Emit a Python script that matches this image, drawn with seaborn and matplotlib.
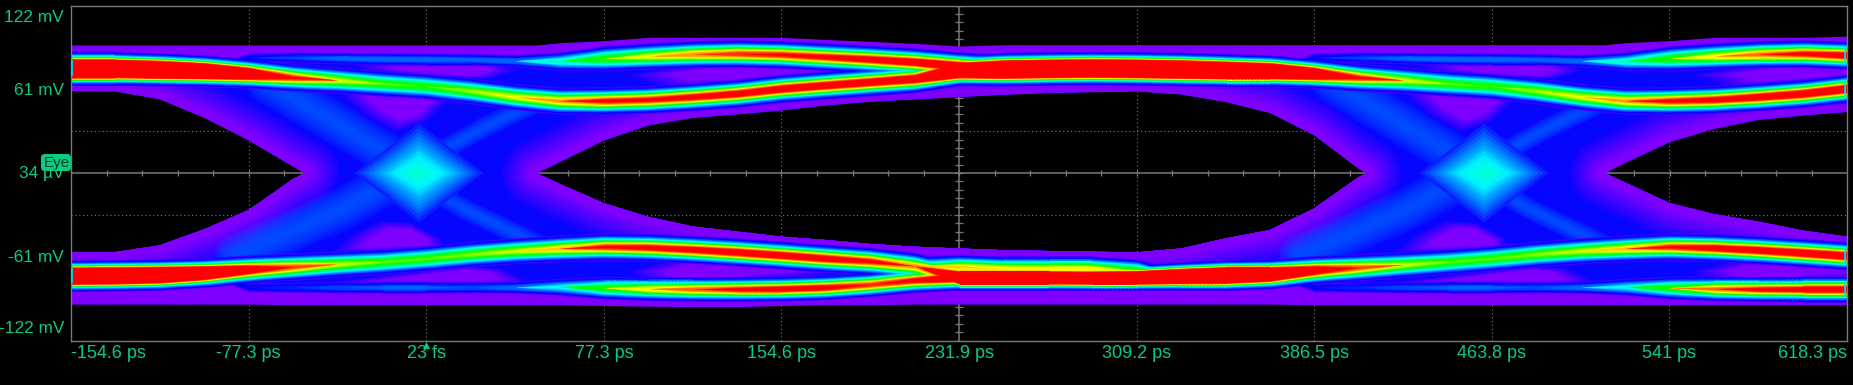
import numpy as np
import matplotlib
matplotlib.use('Agg')
import matplotlib.pyplot as plt
from matplotlib.colors import LinearSegmentedColormap
from matplotlib.patches import FancyBboxPatch
from matplotlib.path import Path
import seaborn as sns

# ========== data ==========
# quarter-division time grid (ps)
time_ps = [-154.6, -135.3, -116.0, -96.6, -77.3, -58.0, -38.7, -19.3, 0.0, 19.3, 38.7, 58.0, 77.3, 96.6,
           116.0, 135.3, 154.6, 173.9, 193.3, 212.6, 231.9, 251.2, 270.6, 289.9, 309.2, 328.5, 347.9,
           367.2, 386.5, 405.8, 425.2, 444.5, 463.8, 483.1, 502.5, 521.8, 541.1, 560.4, 579.8, 599.1, 618.3]

# main top rail: centre (mV), spread (mV), hit density (1 = red)
top_rail = [76.2, 76.2, 75.5, 74.5, 72.6, 69.7, 67.7, 65.3, 63.3, 59.9, 55.6, 52.7, 52.7, 53.6, 55.6, 58.0, 61.6,
            64.1, 66.5, 68.9, 75.0, 75.7, 76.2, 76.5, 76.2, 75.7, 75.0, 74.5, 72.6, 69.7, 67.7, 65.3, 63.3,
            59.9, 55.6, 52.7, 52.7, 53.6, 55.6, 58.0, 61.6]
top_rail_spread = [5.9, 5.9, 5.8, 5.7, 5.6, 5.6, 5.6, 5.6, 5.6, 5.6, 5.6, 5.6, 5.6, 5.6, 5.6, 5.6, 5.6, 5.6, 5.6, 5.6,
                   5.7, 5.9, 5.9, 5.9, 5.9, 5.9, 5.8, 5.7, 5.6, 5.6, 5.6, 5.6, 5.6, 5.6, 5.6, 5.6, 5.6, 5.6, 5.6, 5.6, 5.6]
top_rail_hits = [3.3, 3.3, 3.2, 2.6, 1.7, 1.02, 0.74, 0.62, 0.6, 0.68, 0.76, 0.88, 1.04, 1.05, 1.1, 1.14, 1.18, 1.18,
                 1.2, 1.25, 2.4, 3.3, 3.3, 3.3, 3.3, 3.3, 3.1, 2.6, 1.7, 1.02, 0.74, 0.62, 0.6, 0.68, 0.76, 0.88,
                 1.04, 1.1, 1.16, 1.2, 1.25]

# main bottom rail
bot_rail = [-74.8, -74.5, -74.0, -72.6, -70.1, -68.2, -66.3, -64.6, -62.1, -59.0, -56.6, -54.9, -53.6, -54.1, -55.6,
            -57.5, -59.7, -62.1, -64.1, -67.7, -76.0, -76.0, -76.0, -76.2, -76.0, -75.0, -74.3, -73.5, -70.6, -68.7,
            -66.7, -64.6, -62.1, -59.0, -56.6, -54.9, -53.6, -54.4, -56.0, -58.0, -60.2]
bot_rail_spread = [5.5, 5.5, 5.5, 5.5, 5.6, 5.6, 5.6, 5.6, 5.6, 5.6, 5.6, 5.6, 5.6, 5.6, 5.6, 5.6, 5.6, 5.6, 5.6, 5.6,
                   4.6, 4.6, 4.6, 4.6, 4.6, 5.0, 5.4, 5.5, 5.6, 5.6, 5.6, 5.6, 5.6, 5.6, 5.6, 5.6, 5.6, 5.6, 5.6, 5.6, 5.6]
bot_rail_hits = [3.3, 3.3, 3.0, 2.1, 1.3, 0.96, 0.72, 0.62, 0.62, 0.66, 0.72, 0.84, 1.02, 1.08, 1.12, 1.16, 1.16, 1.14, 1.05,
                 0.9, 2.6, 2.6, 2.6, 2.6, 2.8, 3.0, 3.2, 2.3, 1.3, 0.96, 0.72, 0.62, 0.62, 0.66, 0.72, 0.84, 1.02, 1.12,
                 1.16, 1.2, 1.22]

# outer branches, knots 3..21 and 27..40 of time_ps
upper_a = [74.5, 84.2, 84.2, 83.7, 83.2, 83.0, 82.8, 81.8, 81.5, 83.5, 85.2, 86.6, 87.1, 86.4, 84.7, 83.0, 81.0, 78.0, 76.0]
upper_a_spread = [3.4, 3.4, 3.4, 3.4, 3.4, 3.4, 3.4, 3.4, 4.4, 5.6, 5.6, 5.6, 5.6, 5.6, 5.6, 5.6, 5.6, 5.6, 5.6]
upper_a_hits = [0.05, 0.1, 0.14, 0.18, 0.2, 0.2, 0.18, 0.2, 0.38, 0.6, 0.76, 0.9, 1.0, 1.03, 1.08, 1.14, 1.2, 1.3, 1.2]
upper_b = [74.5, 84.2, 84.2, 83.7, 83.2, 83.0, 82.8, 81.8, 81.5, 83.5, 85.2, 86.6, 87.1, 85.9]
upper_b_spread = [3.4, 3.4, 3.4, 3.4, 3.4, 3.4, 3.4, 3.4, 4.4, 5.6, 5.6, 5.6, 5.6, 5.6]
upper_b_hits = [0.05, 0.1, 0.14, 0.18, 0.2, 0.2, 0.18, 0.2, 0.38, 0.6, 0.78, 0.92, 1.05, 1.14]
lower_a = [-72.6, -83.2, -83.2, -83.2, -83.2, -83.2, -83.2, -83.2, -82.8, -83.5, -84.2, -84.5, -84.5, -84.2, -83.2, -81.1, -77.9, -76.0]
lower_a_spread = [3.4, 3.4, 3.4, 3.4, 3.4, 3.4, 3.4, 3.4, 4.2, 5.0, 5.0, 5.0, 5.0, 5.0, 5.0, 5.0, 5.0, 5.0]
lower_a_hits = [0.05, 0.1, 0.13, 0.16, 0.17, 0.17, 0.16, 0.2, 0.32, 0.6, 0.8, 0.95, 1.05, 1.12, 1.12, 1.0, 1.1, 1.4]
lower_b = [-73.5, -83.2, -83.2, -83.2, -83.2, -83.2, -83.2, -83.2, -82.8, -83.5, -84.2, -84.5, -84.5, -84.5]
lower_b_spread = [3.4, 3.4, 3.4, 3.4, 3.4, 3.4, 3.4, 3.4, 4.2, 5.0, 5.0, 5.0, 5.0, 5.0]
lower_b_hits = [0.05, 0.1, 0.13, 0.16, 0.17, 0.17, 0.16, 0.2, 0.32, 0.6, 0.92, 1.06, 1.12, 1.12]
# yellow shoulder above the bottom rail, knots 19..25
shoulder = [-67.5, -68.2, -69.4, -69.4, -69.4, -71.0, -74.0]
shoulder_spread = [4.6, 5.2, 5.2, 5.2, 5.2, 5.2, 4.0]
shoulder_hits = [0.4, 0.82, 0.8, 0.78, 0.78, 0.62, 0.1]

# edges of the hit area
edge_ps = [-154.6, -135.3, -116.0, -96.6, -77.3, -58.0, -52.8, 47.8, 58.0, 77.3, 96.6, 116.0, 135.3, 154.6, 173.9,
           193.3, 212.6, 231.9, 251.2, 270.6, 289.9, 309.2, 328.5, 347.9, 367.2, 386.5, 405.8, 409.4, 512.6, 521.8,
           541.1, 560.4, 579.8, 599.1, 618.3]
edge_top = [93.2, 93.2, 93.2, 93.2, 93.2, 93.2, 93.2, 93.2, 94.9, 96.4, 98.8, 98.8, 98.8, 98.8, 97.3, 95.9, 94.4, 92.5,
            93.4, 93.4, 93.4, 93.4, 93.4, 93.4, 93.4, 93.4, 93.4, 93.4, 93.4, 94.9, 96.4, 98.8, 98.8, 98.8, 99.7]
edge_bot = [-95.5, -95.5, -95.5, -95.5, -95.5, -96.0, -96.0, -96.0, -96.0, -96.5, -97.0, -97.3, -97.3, -96.5, -96.0,
            -96.0, -95.5, -95.5, -95.5, -95.5, -95.5, -95.5, -95.5, -95.5, -95.5, -96.0, -96.0, -96.0, -96.0, -96.0,
            -96.0, -96.0, -96.0, -96.0, -96.0]
eye_top = [59.9, 59.7, 54.0, 40.5, 24.0, 5.0, 0.0, 0.0, 8.3, 24.0, 35.0, 40.5, 43.0, 45.9, 49.5, 52.2, 53.9, 55.6,
           57.3, 58.5, 59.2, 59.7, 57.5, 52.0, 44.0, 27.7, 3.4, 0.0, 0.0, 7.8, 22.8, 32.5, 39.0, 42.2, 44.7]
eye_bot = [-57.7, -57.6, -52.7, -41.0, -27.0, -4.5, 0.0, 0.0, -8.0, -22.0, -32.0, -39.0, -42.7, -46.4, -48.8, -51.7,
           -53.7, -55.0, -56.2, -56.8, -57.3, -57.8, -55.0, -47.6, -41.5, -25.7, -3.0, 0.0, 0.0, -7.0, -22.0, -30.0,
           -35.5, -42.0, -46.4]

# crossing centres and the shapes around them (ps from centre, mV)
crossing_ps = [-3.2, 460.3]
patch_upper = ([-37.8, -10.3, 13.8, 3.4, -10.3, -24.1], [60.4, 60.9, 53.2, 36.2, 28.9, 41.0], (-5.0, 52.0))
patch_top = ([-31.0, 39.6, 43.0, 31.0, -10.3, -27.5], [79.8, 79.8, 73.8, 68.2, 71.4, 75.5], (15.5, 75.0))
patch_lower = ([-39.6, 12.0, 10.3, -3.4, -17.2, -31.0], [-58.0, -55.6, -47.6, -35.4, -34.2, -45.1], (-5.0, -48.8))
patch_bot = ([-44.7, 20.6, 37.8, 49.0, 32.7, -27.5], [-80.3, -67.0, -69.4, -79.1, -81.5, -81.5], (19.0, -75.5))
lens_top = ([87.5, 121.9, 173.5, 211.3, 156.3, 104.7], [71.4, 79.8, 78.6, 74.5, 67.7, 61.6], (139.0, 73.8))
lens_bot = ([87.5, 113.3, 156.3, 190.7, 139.1, 101.3], [-71.8, -62.1, -63.8, -73.0, -78.4, -80.8], (130.5, -70.6))

streak_ul = ([-66.0, -31.0, -6.9], [66.0, 31.3, 7.0])
streak_ur = ([52.0, 27.5, 5.2], [52.0, 32.5, 11.9])
streak_ll = ([-80.0, -34.4, -10.3], [-60.0, -27.0, -5.0])
streak_lr = ([52.0, 20.6, -1.7], [-52.0, -27.0, -5.0])

core_half_ps = [28, 26, 24, 22, 20, 18, 16, 14, 12, 10, 7, 4]
core_half_mv = [36, 33, 30, 27, 24, 21, 18, 16, 13, 10, 7, 4]

# axis text
x_ticks_ps = [-154.6, -77.3, 0.023, 77.3, 154.6, 231.9, 309.2, 386.5, 463.8, 541.0, 618.3]
x_labels = ['-154.6 ps', '-77.3 ps', '23 fs', '77.3 ps', '154.6 ps', '231.9 ps', '309.2 ps', '386.5 ps', '463.8 ps', '541 ps', '618.3 ps']
y_labels = ['122 mV', '61 mV', '34 µV', '-61 mV', '-122 mV']
y_label_mv = [113.6, 60.4, -0.7, -61.9, -113.6]

# ========== style ==========
TEXT = '#0bcb80'
GRID = '#7a7a7a'
sns.set_theme(style='dark', rc={'figure.facecolor': 'black', 'axes.facecolor': 'black', 'axes.edgecolor': GRID})
plt.rcParams['font.family'] = ['Liberation Sans', 'DejaVu Sans']

hit_levels = [0.04, 0.06, 0.08, 0.10, 0.13, 0.16, 0.20, 0.25, 0.30, 0.35, 0.40, 0.45, 0.50, 0.55, 0.60, 0.65, 0.70,
              0.75, 0.80, 0.85, 0.90, 0.95, 1.00]
rainbow = LinearSegmentedColormap.from_list('persist', [
    (0.0, '#8000ff'), (0.08, '#0000ff'), (0.18, '#0080ff'), (0.30, '#00ffff'), (0.42, '#00ff80'),
    (0.54, '#00ff00'), (0.75, '#ffff00'), (0.88, '#ff8000'), (1.0, '#ff0000')])

fig = plt.figure(figsize=(18.53, 3.85), dpi=100)
ax = fig.add_axes([71 / 1853, 1 - 340.5 / 385, 1776 / 1853, 335 / 385])
ax.set_xlim(-154.6, 618.3)
ax.set_ylim(-122, 122)
ax.set_xticks([])
ax.set_yticks([])
ax.grid(False)

# ========== graticule ==========
for tick in x_ticks_ps[1:-1]:
    if abs(tick - 231.9) > 1:
        ax.axvline(tick, color=GRID, lw=0.8, ls=(0, (1, 2.5)), zorder=0.5)
for v in [-30.5, 30.5]:
    ax.axhline(v, color=GRID, lw=0.8, ls=(0, (1, 2.5)), zorder=0.5)
ax.axhline(0, color=GRID, lw=1.1, zorder=0.6)
ax.axvline(231.9, color=GRID, lw=1.1, zorder=0.6)
ax.vlines(np.arange(-154.6, 618.3, 15.46), -2.0, 2.0, color=GRID, lw=0.9, zorder=0.6)
ax.hlines(np.arange(-122, 122.1, 6.1), 231.9 - 1.6, 231.9 + 1.6, color=GRID, lw=0.9, zorder=0.6)

# ========== hit area: purple bands with the eye left out ==========
top_band = ax.fill_between(edge_ps, eye_top, edge_top, color='#8000ff', lw=0, zorder=1)
bot_band = ax.fill_between(edge_ps, edge_bot, eye_bot, color='#8000ff', lw=0, zorder=1)
hit_path = Path.make_compound_path(top_band.get_paths()[0], bot_band.get_paths()[0])


def clip(artist):
    artist.set_clip_path(hit_path, transform=ax.transData)


# blue floor under the transitions
t = np.array(time_ps)
clip(ax.fill_between(t[3:21], lower_a, upper_a[:18], color='#0606ff', lw=0, zorder=1.1))
clip(ax.fill_between(t[27:41], lower_b, upper_b, color='#0606ff', lw=0, zorder=1.1))

# purple glow hugging the eye opening
halo_pts = [26, 24.5, 23, 21.5, 20, 18.5, 17, 15.5, 14, 12.5, 11, 9.5, 8, 6.5, 5]
halo_cols = sns.blend_palette(['#0a04ff', '#8000ff'], len(halo_pts))
eye_spans = [(0, 7), (7, 28), (28, 35)]
for lw, col in zip(halo_pts, halo_cols):
    for a, b in eye_spans:
        for edge in (eye_top, eye_bot):
            sns.lineplot(x=edge_ps[a:b], y=edge[a:b], color=col, linewidth=2 * lw, ax=ax, zorder=1.2, errorbar=None)
            clip(ax.lines[-1])

# streaks running into the crossing
for t0 in crossing_ps:
    for (dx, ys), scale in zip([streak_ul, streak_ll, streak_ur, streak_lr], [1.0, 1.0, 0.5, 0.5]):
        for lw in [30, 26, 22, 18, 14, 10, 6]:
            sns.lineplot(x=[t0 + d for d in dx], y=ys, color='#0078ff', alpha=0.13, linewidth=lw * scale, ax=ax,
                         zorder=1.3, errorbar=None)
            clip(ax.lines[-1])

# purple pools between the traces
pool_scale = [1.0, 0.94, 0.88, 0.82, 0.76, 0.7, 0.64, 0.58]
pool_cols = sns.blend_palette(['#0c04ff', '#8000ff'], len(pool_scale))
for t0 in crossing_ps:
    for xs, ys, (cx, cy) in [patch_upper, patch_top, patch_lower, patch_bot, lens_top, lens_bot]:
        for s, col in zip(pool_scale, pool_cols):
            px = [t0 + cx + s * (v - cx) for v in xs]
            py = [cy + s * (v - cy) for v in ys]
            clip(ax.fill(px, py, color=col, lw=0, zorder=1.4)[0])

# bright patch at each crossing
core_cols = sns.blend_palette(['#0a20ff', '#0070ff', '#00b0ff', '#00f4ff', '#00ffd8'], len(core_half_ps))
for t0 in crossing_ps:
    for hx, hy, col in zip(core_half_ps, core_half_mv, core_cols):
        clip(ax.fill([t0 - hx, t0, t0 + hx, t0], [0, hy, 0, -hy], color=col, lw=0, zorder=1.5)[0])

# ========== traces, painted level by level so red stays on top ==========
traces = [(t, top_rail, top_rail_spread, top_rail_hits),
          (t, bot_rail, bot_rail_spread, bot_rail_hits),
          (t[3:22], upper_a, upper_a_spread, upper_a_hits),
          (t[27:41], upper_b, upper_b_spread, upper_b_hits),
          (t[3:21], lower_a, lower_a_spread, lower_a_hits),
          (t[27:41], lower_b, lower_b_spread, lower_b_hits),
          (t[19:26], shoulder, shoulder_spread, shoulder_hits)]
for k, level in enumerate(hit_levels):
    col = rainbow(level)
    for xs, mid, spread, hits in traces:
        half = np.array(spread) * np.sqrt(np.clip(np.log(np.array(hits) / level), 0, None))
        mid = np.array(mid)
        clip(ax.fill_between(xs, mid - half, mid + half, color=col, lw=0, zorder=2 + k * 0.01))

# cyan rim where the persistence map starts and stops
rim_rows = [(time_ps[0] + 0.5, top_rail[0], top_rail_spread[0]), (time_ps[0] + 0.5, bot_rail[0], bot_rail_spread[0]),
            (time_ps[-1] - 0.9, top_rail[-1], top_rail_spread[-1]), (time_ps[-1] - 0.9, bot_rail[-1], bot_rail_spread[-1]),
            (time_ps[-1] - 0.9, upper_b[-1], upper_b_spread[-1]), (time_ps[-1] - 0.9, lower_b[-1], lower_b_spread[-1])]
for x_rim, mid, spread in rim_rows:
    ax.vlines(x_rim, mid - 1.0 * spread, mid + 1.0 * spread, color='#00e0ff', lw=1.2, zorder=3)

# ========== frame and text ==========
for s in ax.spines.values():
    s.set_color(GRID)
    s.set_linewidth(1.0)

for i, (tick, lab) in enumerate(zip(x_ticks_ps, x_labels)):
    ha = 'left' if i == 0 else 'right' if i == len(x_labels) - 1 else 'center'
    ax.annotate(lab, xy=(tick, 0), xycoords=('data', 'axes fraction'), xytext=(0, -9.5), textcoords='offset points',
                ha=ha, va='center', color=TEXT, fontsize=13, annotation_clip=False)
for lab, v in zip(y_labels, y_label_mv):
    ax.annotate(lab, xy=(0, v), xycoords=('axes fraction', 'data'), xytext=(-5, 0), textcoords='offset points',
                ha='right', va='center', color=TEXT, fontsize=12.4, annotation_clip=False)

# trigger arrow and channel badge
sns.scatterplot(x=[0.023], y=[-125.5], marker='^', s=26, color=TEXT, linewidth=0, ax=ax, clip_on=False, zorder=6)
badge = FancyBboxPatch((41 / 1853, 1 - 171 / 385), 30 / 1853, 17 / 385, boxstyle='round,pad=0,rounding_size=0.002',
                       transform=fig.transFigure, fc=TEXT, ec='none', mutation_aspect=4.8, zorder=5)
fig.add_artist(badge)
fig.text(57 / 1853, 1 - 163 / 385, 'Eye', color='#04402a', fontsize=11, ha='center', va='center', zorder=6)

fig.savefig('out.png', dpi=100, facecolor='black')
plt.close(fig)
